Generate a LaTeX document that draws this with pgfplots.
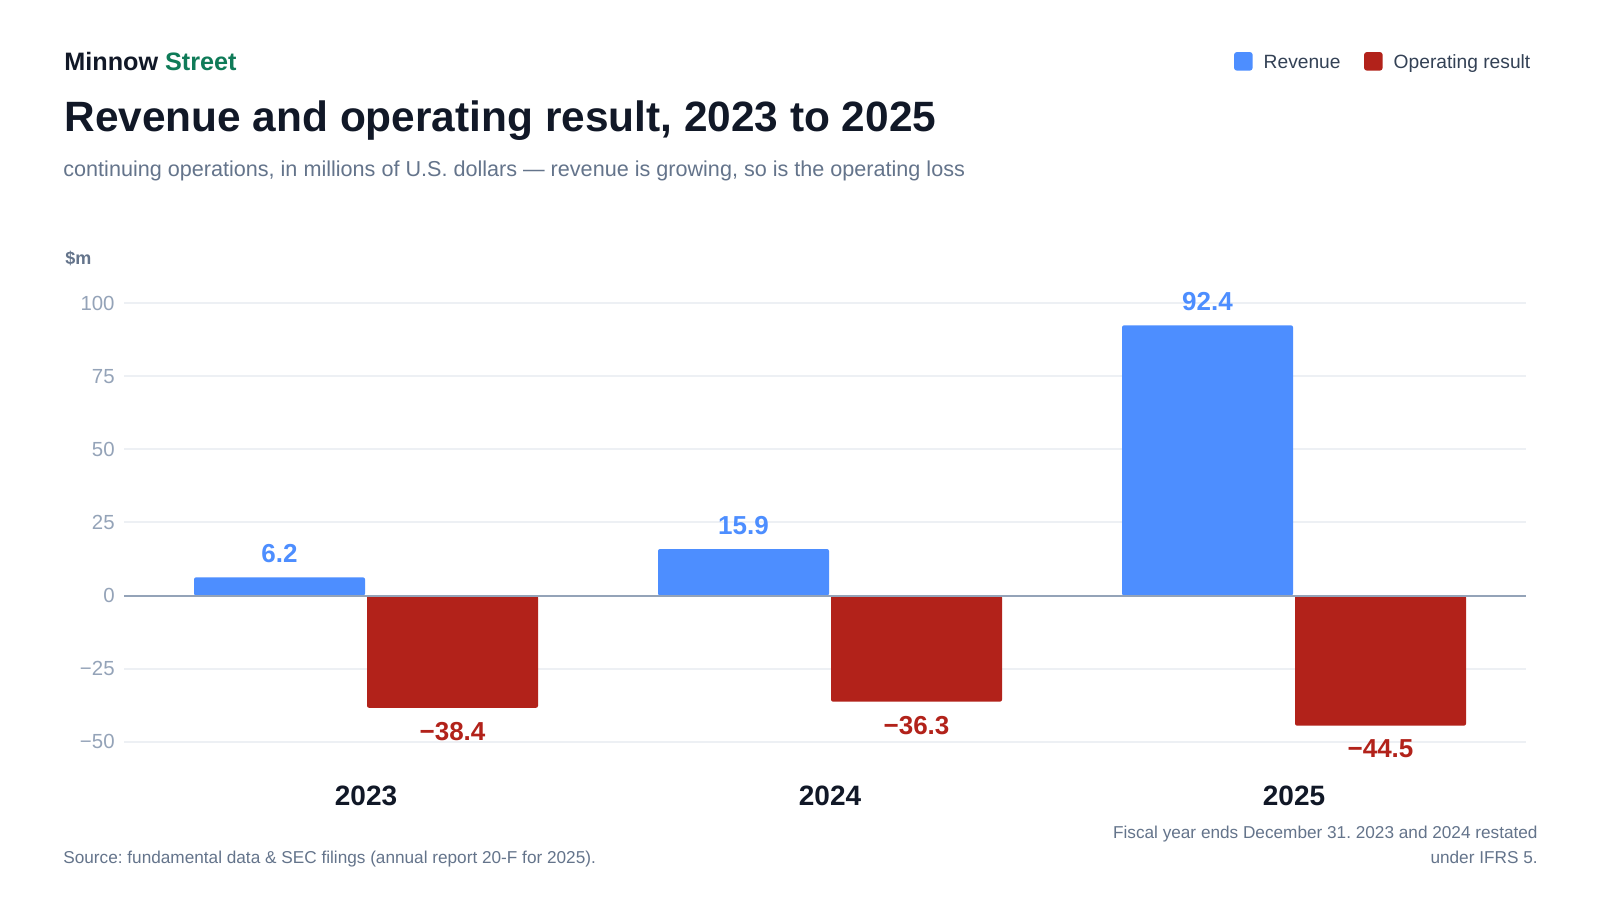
\documentclass[border=0pt]{standalone}
\usepackage{fontspec}
\setmainfont{Liberation Sans}
\usepackage{pgfplots}
\pgfplotsset{compat=1.18}
\definecolor{revblue}{HTML}{4D8EFF}
\definecolor{opred}{HTML}{B2221A}
\definecolor{ink}{HTML}{111827}
\definecolor{street}{HTML}{0F7B58}
\definecolor{subgray}{HTML}{64748B}
\definecolor{legtext}{HTML}{334155}
\definecolor{ticktext}{HTML}{94A3B8}
\definecolor{gridc}{HTML}{EDF0F4}
\definecolor{zeroc}{HTML}{94A3B8}
\frenchspacing
\begin{document}
\begin{tikzpicture}[x=1pt,y=1pt]
\fill[white] (0,0) rectangle (800,-450);
\useasboundingbox (0,0) rectangle (800,-450);
% header
\node[anchor=base west, inner sep=0pt] at (32,-35.35) {\fontsize{12.6}{14}\selectfont\bfseries\color{ink}Minnow \color{street}Street};
\node[anchor=base west, inner sep=0pt] at (32,-65.85) {\fontsize{21.2}{24}\selectfont\bfseries\color{ink}Revenue and operating result, 2023 to 2025};
\node[anchor=base west, inner sep=0pt] at (31.5,-88.35) {\fontsize{10.8}{12}\selectfont\color{subgray}continuing operations, in millions of U.S. dollars — revenue is growing, so is the operating loss};
% legend
\fill[revblue, rounded corners=1.5pt] (617,-26) rectangle (626.35,-35.35);
\node[anchor=base west, inner sep=0pt] at (631.65,-34.15) {\fontsize{9.6}{11}\selectfont\color{legtext}Revenue};
\fill[opred, rounded corners=1.5pt] (682,-26) rectangle (691.35,-35.35);
\node[anchor=base west, inner sep=0pt] at (696.65,-34.15) {\fontsize{9.6}{11}\selectfont\color{legtext}Operating result};
% unit
\node[anchor=base west, inner sep=0pt] at (32.5,-132) {\fontsize{9}{11}\selectfont\bfseries\color{subgray}\$m};
% footnotes
\node[anchor=base west, inner sep=0pt] at (31.5,-431.5) {\fontsize{8.6}{10}\selectfont\color{subgray}Source: fundamental data \& SEC filings (annual report 20-F for 2025).};
\node[anchor=base east, inner sep=0pt] at (769,-419.3) {\fontsize{8.6}{10}\selectfont\color{subgray}Fiscal year ends December 31. 2023 and 2024 restated};
\node[anchor=base east, inner sep=0pt] at (769,-431.5) {\fontsize{8.6}{10}\selectfont\color{subgray}under IFRS 5.};
\begin{axis}[
  at={(62pt,-370.85pt)}, anchor=south west,
  scale only axis, width=701pt, height=219.3pt,
  xmin=-0.5216, xmax=2.5, ymin=-50, ymax=100,
  clip=false,
  axis line style={draw=none},
  major tick length=0pt,
  ytick={-50,-25,0,25,50,75,100},
  yticklabels={−50,−25,0,25,50,75,100},
  yticklabel style={anchor=east, inner sep=0pt, xshift=-4.5pt, font=\fontsize{10.2}{12}\selectfont, text=ticktext},
  xtick={0,1,2},
  xticklabels={2023,2024,2025},
  xticklabel style={anchor=north, inner sep=0pt, yshift=-22pt, font=\fontsize{14}{16}\selectfont\bfseries, text=ink},
  ymajorgrids, grid style={draw=gridc, line width=1pt},
  ybar=1pt, bar width=85.5pt,
  point meta=explicit symbolic,
]
\addplot[fill=revblue, draw=none, rounded corners=1pt,
  nodes near coords, nodes near coords style={anchor=south, inner sep=0pt, yshift=7pt, font=\fontsize{13}{15}\selectfont\bfseries, text=revblue}]
  coordinates {(0,6.2) [6.2] (1,15.9) [15.9] (2,92.4) [92.4]};
\addplot[fill=opred, draw=none, rounded corners=1pt,
  nodes near coords, nodes near coords style={anchor=north, inner sep=0pt, yshift=-7pt, font=\fontsize{13}{15}\selectfont\bfseries, text=opred}]
  coordinates {(0,-38.4) [−38.4] (1,-36.3) [−36.3] (2,-44.5) [−44.5]};
\draw[zeroc, line width=1pt] (axis cs:-0.5216,0) -- (axis cs:2.5,0);
\end{axis}
\end{tikzpicture}
\end{document}
